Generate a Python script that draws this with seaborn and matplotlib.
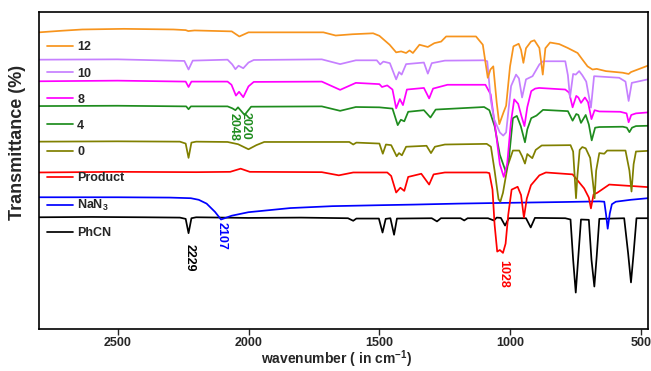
import matplotlib

matplotlib.use("Agg")
import matplotlib.pyplot as plt
import seaborn as sns

# FTIR spectra, wavenumber (cm-1) vs transmittance (arb., offset per trace)
wn_phcn = [2800, 2600, 2400, 2262, 2240, 2229, 2218, 2200, 2000, 1800,
           1620, 1600, 1588, 1502, 1488, 1476, 1458, 1444, 1433, 1300,
           1280, 1265, 1190, 1176, 1163, 1085, 1063, 1052, 1036, 1020,
           1006, 940, 922, 906, 790, 770, 760, 750, 741, 730,
           700, 690, 679, 670, 660, 565, 550, 539, 529, 518, 475]
t_phcn = [35.3, 35.4, 35.3, 35.2, 34.8, 30.3, 35.0, 35.3, 35.1, 35.2,
          35.0, 34.2, 34.9, 34.9, 30.5, 34.8, 35.0, 29.8, 34.9, 35.0,
          34.0, 35.0, 35.0, 34.3, 35.0, 35.0, 34.3, 35.2, 35.1, 32.7,
          35.0, 35.0, 32.1, 35.1, 35.0, 34.6, 22.0, 11.6, 22.0, 34.6,
          34.5, 22.0, 13.5, 23.0, 34.8, 35.0, 24.0, 14.8, 24.0, 35.0, 35.0]

wn_nan3 = [2800, 2500, 2300, 2220, 2190, 2160, 2128, 2105, 2064, 2000,
           1840, 1680, 1500, 1365, 1200, 1048, 800, 660, 641, 634,
           628, 620, 612, 597, 540, 475]
t_nan3 = [41.6, 41.6, 41.5, 41.3, 40.8, 39.6, 37.0, 34.6, 35.8, 36.9,
          38.2, 38.8, 39.1, 39.3, 39.6, 39.8, 40.1, 40.3, 40.2, 36.0,
          31.7, 36.5, 39.4, 40.2, 40.8, 41.3]

wn_prod = [2800, 2500, 2200, 2070, 2030, 1995, 1720, 1655, 1600, 1470,
           1455, 1436, 1420, 1405, 1390, 1340, 1310, 1293, 1250, 1090,
           1080, 1068, 1060, 1050, 1040, 1028, 1018, 1008, 995, 972,
           959, 948, 937, 921, 889, 864, 762, 718, 700, 692,
           682, 668, 622, 475]
t_prod = [49.4, 49.6, 49.5, 49.6, 50.6, 49.6, 49.5, 48.5, 49.4, 49.4,
          48.3, 43.1, 44.6, 43.6, 48.0, 49.0, 45.6, 48.8, 49.4, 49.4,
          49.2, 44.0, 33.0, 24.5, 25.0, 24.1, 27.0, 36.0, 44.0, 44.9,
          42.3, 35.2, 41.2, 45.4, 48.5, 49.4, 48.8, 44.4, 41.5, 38.1,
          42.5, 43.0, 45.6, 44.8]

wn_0 = [2800, 2500, 2262, 2240, 2229, 2218, 2200, 2080, 2040, 2000,
        1970, 1940, 1700, 1615, 1600, 1588, 1500, 1487, 1475, 1455,
        1434, 1425, 1414, 1398, 1320, 1303, 1288, 1250, 1090, 1074,
        1060, 1045, 1038, 1028, 1010, 990, 966, 955, 944, 935,
        925, 916, 903, 880, 770, 760, 754, 749, 744, 735,
        725, 712, 695, 684, 678, 672, 660, 641, 630, 560,
        545, 537, 529, 520, 475]
t_0 = [59.1, 59.2, 59.1, 58.5, 54.0, 58.8, 59.1, 59.0, 58.3, 56.7,
       58.0, 59.0, 59.0, 59.0, 58.2, 58.8, 58.5, 55.3, 58.2, 58.0,
       54.5, 55.5, 54.8, 57.5, 57.8, 55.5, 57.5, 58.2, 58.4, 57.5,
       50.0, 41.0, 40.2, 43.0, 51.5, 56.3, 56.3, 54.5, 52.2, 55.2,
       54.5, 53.9, 56.5, 57.9, 58.0, 56.0, 48.0, 41.3, 48.0, 56.5,
       57.4, 57.0, 54.0, 46.0, 41.3, 50.0, 55.5, 55.3, 56.3, 56.3,
       50.0, 43.4, 52.0, 56.0, 56.2]

wn_4 = [2800, 2500, 2238, 2229, 2220, 2080, 2062, 2050, 2040, 2015,
        1990, 1720, 1650, 1590, 1500, 1450, 1430, 1418, 1405, 1390,
        1330, 1305, 1285, 1100, 1080, 1060, 1040, 1017, 1005, 990,
        975, 960, 944, 935, 920, 900, 875, 780, 762, 748,
        740, 730, 712, 700, 689, 676, 660, 570, 555, 545,
        535, 520, 475]
t_4 = [70.3, 70.4, 70.2, 69.3, 70.2, 70.2, 69.6, 69.0, 69.9, 67.5,
       70.1, 70.2, 68.8, 70.0, 69.9, 69.5, 64.3, 66.0, 65.5, 68.5,
       69.0, 66.7, 69.2, 70.0, 69.0, 64.0, 55.0, 49.6, 54.0, 66.5,
       67.2, 64.0, 58.9, 63.0, 66.5, 67.3, 69.1, 68.7, 65.7, 67.8,
       67.5, 65.0, 67.5, 64.5, 59.5, 63.5, 63.7, 63.8, 63.5, 62.1,
       63.5, 64.0, 64.1]

wn_8 = [2800, 2500, 2240, 2229, 2218, 2080, 2065, 2048, 2036, 2020,
        2000, 1980, 1720, 1650, 1590, 1500, 1490, 1470, 1450, 1436,
        1422, 1410, 1395, 1330, 1310, 1295, 1240, 1095, 1075, 1055,
        1040, 1025, 1012, 998, 985, 970, 957, 946, 935, 920,
        905, 890, 790, 775, 762, 748, 740, 730, 715, 703,
        690, 678, 660, 580, 556, 548, 538, 520, 475]
t_8 = [78.1, 78.3, 78.0, 76.3, 78.0, 78.0, 77.0, 73.6, 74.8, 73.1,
       76.5, 77.9, 78.0, 75.4, 77.6, 77.2, 76.3, 76.8, 75.5, 69.6,
       72.5, 70.6, 75.5, 76.0, 72.7, 75.8, 77.0, 77.0, 74.0, 62.0,
       52.0, 48.0, 52.0, 65.0, 72.4, 71.0, 67.0, 64.0, 70.0, 75.0,
       75.8, 76.0, 75.5, 74.5, 69.9, 73.5, 73.0, 71.3, 73.0, 71.5,
       66.2, 69.0, 68.6, 68.5, 68.0, 65.2, 67.5, 68.0, 68.3]

wn_10 = [2800, 2500, 2245, 2229, 2213, 2080, 2062, 2050, 2038, 2020,
         2000, 1980, 1720, 1650, 1590, 1510, 1497, 1485, 1460, 1436,
         1425, 1415, 1398, 1330, 1315, 1300, 1250, 1100, 1088, 1075,
         1062, 1040, 1027, 1016, 997, 978, 967, 955, 940, 915,
         889, 875, 790, 780, 772, 760, 750, 737, 725, 710,
         692, 680, 584, 560, 548, 536, 475]
t_10 = [84.9, 85.0, 84.5, 81.8, 84.6, 84.9, 83.4, 81.9, 83.0, 82.2,
        84.0, 84.8, 85.0, 83.5, 84.7, 84.7, 83.4, 84.3, 83.8, 78.7,
        81.0, 80.2, 83.5, 84.0, 80.5, 83.8, 84.6, 84.7, 84.4, 72.4,
        66.2, 62.0, 61.0, 62.0, 76.6, 80.2, 79.0, 73.0, 78.7, 79.7,
        83.4, 84.4, 84.4, 80.0, 73.0, 80.4, 80.2, 81.3, 80.0, 78.0,
        69.8, 79.7, 79.2, 78.0, 71.9, 77.6, 78.7]

wn_12 = [2800, 2714, 2635, 2476, 2286, 2240, 2230, 2206, 2064, 2035,
         2000, 1714, 1667, 1603, 1524, 1500, 1461, 1436, 1417, 1398,
         1385, 1372, 1347, 1315, 1290, 1264, 1245, 1131, 1105, 1086,
         1076, 1065, 1052, 1042, 1026, 1016, 1001, 988, 968, 959,
         950, 940, 921, 908, 889, 876, 866, 848, 813, 781,
         762, 743, 726, 705, 686, 670, 635, 571, 548, 539, 475]
t_12 = [93.5, 94.0, 94.4, 94.6, 94.4, 94.2, 93.9, 94.1, 93.8, 92.2,
        93.5, 93.5, 92.5, 92.9, 93.2, 92.4, 89.6, 87.2, 87.5, 87.0,
        87.8, 87.0, 89.6, 88.9, 90.1, 90.6, 92.2, 92.2, 89.6, 79.2,
        81.8, 82.8, 71.4, 64.6, 68.3, 70.4, 82.8, 89.1, 89.9, 88.0,
        83.9, 88.5, 90.6, 91.0, 88.6, 80.2, 88.5, 90.3, 89.8, 88.6,
        87.8, 87.0, 85.1, 82.8, 81.8, 82.0, 81.3, 80.8, 80.4, 81.0, 83.0]

labels = ["PhCN", "NaN$_3$", "Product", "0", "4", "8", "10", "12"]
colors = ["#000000", "#0000FF", "#FF0000", "#808000", "#1E8C1E",
          "#FF00FF", "#C680FF", "#F7941D"]

# peak labels
peak_text = ["2229", "2107", "1028", "2048", "2020"]
peak_x = [2225, 2103, 1027, 2058, 2011]
peak_y = [22.6, 29.4, 17.6, 63.6, 64.0]
peak_col = ["#000000", "#0000FF", "#FF0000", "#1E8C1E", "#1E8C1E"]

sns.set_style("ticks")
plt.rcParams["font.family"] = ["Liberation Sans", "DejaVu Sans"]
plt.rcParams["font.weight"] = "bold"
plt.rcParams["mathtext.default"] = "regular"

series = [(wn_phcn, t_phcn), (wn_nan3, t_nan3), (wn_prod, t_prod), (wn_0, t_0),
          (wn_4, t_4), (wn_8, t_8), (wn_10, t_10), (wn_12, t_12)]

fig = plt.figure(figsize=(6.51, 3.71), dpi=100)
ax = fig.add_axes([0.060, 0.112, 0.935, 0.8565])

for (x, y), lab, col in zip(series, labels, colors):
    sns.lineplot(x=x, y=y, ax=ax, color=col, lw=1.25, label=lab, errorbar=None)

for txt, px, py, c in zip(peak_text, peak_x, peak_y, peak_col):
    ax.text(px, py, txt, rotation=270, ha="center", va="center",
            color=c, fontsize=9, fontweight="bold")

ax.set_xlim(2800, 475)
ax.set_ylim(0, 100)
ax.set_xticks([2500, 2000, 1500, 1000, 500])
ax.set_yticks([])
ax.tick_params(axis="x", direction="out", length=4, width=1, labelsize=9, pad=1.5)
for lbl in ax.get_xticklabels():
    lbl.set_fontweight("bold")
for sp in ax.spines.values():
    sp.set_visible(True)
    sp.set_linewidth(1.2)
    sp.set_color("black")

ax.set_xlabel("wavenumber ( in cm$^{-1}$)", fontsize=10, fontweight="bold")
ax.xaxis.set_label_coords(0.488, -0.060)
ax.set_ylabel("Transmittance (%)", fontsize=13, fontweight="bold")
ax.yaxis.set_label_coords(-0.022, 0.59)

handles, labs = ax.get_legend_handles_labels()
ax.legend(handles[::-1], labs[::-1], loc="upper left", bbox_to_anchor=(0.0, 0.93),
          frameon=False, fontsize=9, handlelength=2.1, handletextpad=0.35,
          labelspacing=1.13, borderaxespad=0.2)

fig.savefig("out.png", dpi=100, facecolor="white")
